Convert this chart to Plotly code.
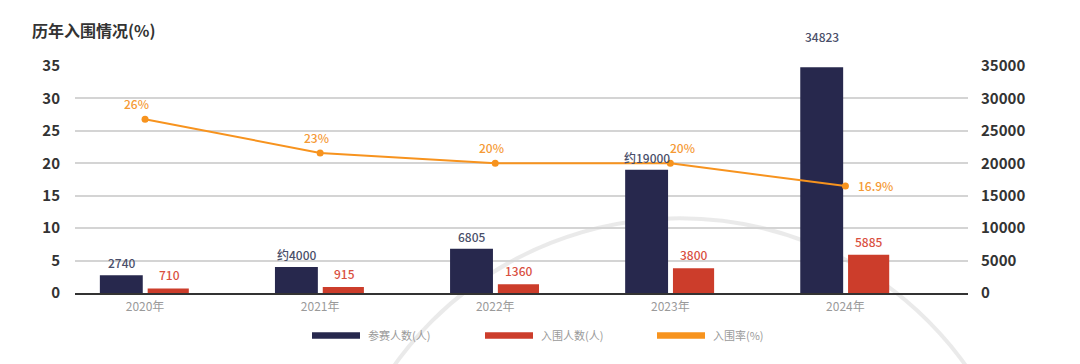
import plotly.graph_objects as go

years = ["2020年", "2021年", "2022年", "2023年", "2024年"]
participants = [2740, 4000, 6805, 19000, 34823]
participant_labels = ["2740", "约4000", "6805", "约19000", "34823"]
finalists = [710, 915, 1360, 3800, 5885]
finalist_labels = ["710", "915", "1360", "3800", "5885"]
rate = [26.8, 21.6, 20.0, 20.0, 16.5]
rate_labels = ["26%", "23%", "20%", "20%", "16.9%"]
left_ticks = [0, 5, 10, 15, 20, 25, 30, 35]
right_ticks = [0, 5000, 10000, 15000, 20000, 25000, 30000, 35000]

NAVY = "#27284d"
RED = "#cc3d2b"
ORANGE = "#f7931e"
FONT = "Noto Sans CJK SC"

fig = go.Figure()
fig.add_trace(go.Bar(x=years, y=participants, yaxis="y", marker=dict(color=NAVY, line=dict(width=0)),
                     width=0.245, offset=-0.258, name="参赛人数(人)"))
fig.add_trace(go.Bar(x=years, y=finalists, yaxis="y", marker=dict(color=RED, line=dict(width=0)),
                     width=0.235, offset=0.015, name="入围人数(人)"))
fig.add_trace(go.Scatter(x=years, y=rate, yaxis="y2", mode="lines+markers", line=dict(color=ORANGE, width=2),
                         marker=dict(color=ORANGE, size=7), name="入围率(%)", cliponaxis=False))

ann = []
navy_shift = [2, 2, 2, 2, 20]
for yr, v, t, s in zip(years, participants, participant_labels, navy_shift):
    ann.append(dict(x=yr, y=v, yref="y", text=t, showarrow=False, xshift=-23, yshift=s,
                    yanchor="bottom", font=dict(family=FONT, size=12, color="#4a4f6a", weight=500)))
for yr, v, t in zip(years, finalists, finalist_labels):
    ann.append(dict(x=yr, y=v, yref="y", text=t, showarrow=False, xshift=24, yshift=3,
                    yanchor="bottom", font=dict(family=FONT, size=12, color="#d9503f", weight=500)))
rate_xshift = [-9, -4, -4, 12, 5]
for yr, v, t, xs in zip(years, rate, rate_labels, rate_xshift):
    if t == "16.9%":
        ann.append(dict(x=yr, y=v, yref="y2", text=t, showarrow=False, xshift=xs + 6, yshift=0,
                        xanchor="left", yanchor="middle", font=dict(family=FONT, size=12, color="#f59a35", weight=500)))
    else:
        ann.append(dict(x=yr, y=v, yref="y2", text=t, showarrow=False, xshift=xs, yshift=5,
                        yanchor="bottom", font=dict(family=FONT, size=12, color="#f59a35", weight=500)))

# page-pixel -> paper helpers (plot area spans x 75..968, y 66..292.7 on the page)
W, H = 893.0, 226.7
def px(xp):
    return (xp - 75) / W
def py(yp):
    return (292.7 - yp) / H

# title
ann.append(dict(xref="paper", yref="paper", x=px(30), y=py(30), xanchor="left", yanchor="middle",
                text="<b>历年入围情况(%)</b>", showarrow=False,
                font=dict(family=FONT, size=16, color="#333333")))

# custom legend
legend_items = [("参赛人数(人)", NAVY, 312), ("入围人数(人)", RED, 485), ("入围率(%)", ORANGE, 657)]
shapes = []
for label, col, x0 in legend_items:
    shapes.append(dict(type="rect", xref="paper", yref="paper", x0=px(x0), x1=px(x0 + 48),
                       y0=py(338.5), y1=py(332), fillcolor=col, line=dict(width=0), layer="above"))
    ann.append(dict(xref="paper", yref="paper", x=px(x0 + 54), y=py(335), xanchor="left", yanchor="middle",
                    text=label, showarrow=False, font=dict(family=FONT, size=11, color="#9a9a9a")))

# faint decorative arc
shapes.append(dict(type="circle", xref="paper", yref="paper", x0=px(329), x1=px(1031), y0=py(920), y1=py(218),
                   line=dict(color="rgba(225,225,225,0.7)", width=4), layer="below"))

fig.update_layout(
    width=1080, height=364,
    margin=dict(l=67, r=120, t=58, b=79.3),
    paper_bgcolor="white", plot_bgcolor="white",
    barmode="overlay", showlegend=False,
    annotations=ann, shapes=shapes,
    xaxis=dict(type="category", range=[-0.4, 4.7], showgrid=False, showline=True, linecolor="#333333",
               linewidth=2, ticks="", tickfont=dict(family=FONT, size=12, color="#9a9a9a"),
               ticklabelstandoff=2, zeroline=False),
    yaxis=dict(range=[0, 35000], tickvals=right_ticks, ticktext=[str(v) for v in right_ticks],
               side="right", showgrid=True, gridcolor="#d4d4d4", gridwidth=1.5,
               zeroline=False, showline=False, ticks="",
               tickfont=dict(family=FONT, size=15, color="#333333", weight="bold"), ticklabelstandoff=12),
    yaxis2=dict(range=[0, 35], tickvals=left_ticks, overlaying="y", side="left", showgrid=False,
                zeroline=False, showline=False, ticks="",
                tickfont=dict(family=FONT, size=15, color="#333333", weight="bold"), ticklabelstandoff=14),
)

fig.write_html("out.html")
